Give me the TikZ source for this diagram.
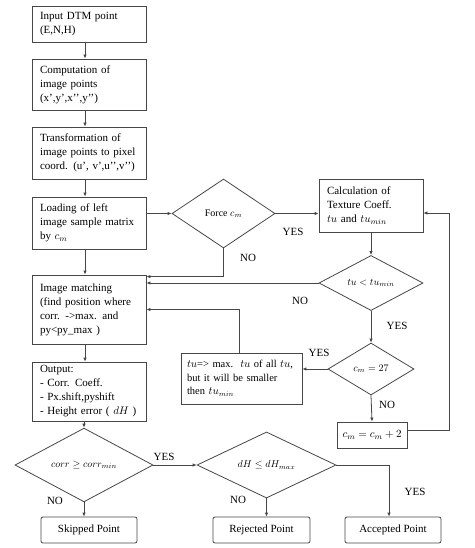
\documentclass[tikz,border=0pt]{standalone}
\usepackage{fontspec}
\setmainfont{Liberation Serif}
\usetikzlibrary{shapes.geometric,arrows.meta}
\begin{document}
\begin{tikzpicture}[x=1pt,y=-1pt,
  line width=0.8pt,
  box/.style={draw=black!72, line width=0.8pt, rectangle, align=left, inner xsep=8pt, inner ysep=0pt, font=\fontsize{11}{14}\selectfont},
  endbox/.style={draw=black!72, line width=0.8pt, rectangle, rounded corners=2pt, inner sep=0pt, minimum width=96pt, minimum height=26pt, font=\fontsize{11}{14}\selectfont},
  dia/.style={diamond, draw=black!72, line width=0.8pt, inner sep=0pt, font=\fontsize{10}{12}\selectfont},
  arr/.style={draw=black!72, -{Latex[length=4pt,width=3.5pt]}},
  lbl/.style={inner sep=0pt, font=\fontsize{11}{13}\selectfont}
]
\useasboundingbox (0,0) rectangle (474,548);
\fill[white] (0,0) rectangle (474,548);

% left column boxes
\node[box, minimum width=114pt, text width=98pt, minimum height=36pt] (b1) at (89,24) {Input DTM point\\(E,N,H)};
\node[box, minimum width=114pt, text width=98pt, minimum height=51pt] (b2) at (89,84.5) {Computation of\\image points\\(x{'},y{'},x{'}{'},y{'}{'})};
\node[box, minimum width=114pt, text width=98pt, minimum height=52pt] (b3) at (89,153) {Transformation of\\image points to pixel\\coord. (u{'}, v{'},u{'}{'},v{'}{'})};
\node[box, minimum width=114pt, text width=98pt, minimum height=52pt] (b4) at (89,223) {Loading of left\\image sample matrix\\by $c_m$};
\node[box, minimum width=114pt, text width=98pt, minimum height=69pt] (b5) at (89,309.5) {Image matching\\(find position where\\corr. ->max. and\\py<py\_max )};
\node[box, minimum width=114pt, text width=98pt, minimum height=59pt] (b6) at (89,391.5) {Output:\\- Corr. Coeff.\\- Px.shift,pyshift\\- Height error ( $dH$ )};

% right side
\node[box, minimum width=104pt, text width=88pt, minimum height=53pt] (calc) at (371,205.5) {Calculation of\\Texture Coeff.\\$tu$ and $tu_{min}$};
\node[box, inner xsep=6pt, minimum width=121pt, text width=109pt, minimum height=51pt, font=\fontsize{10.5}{13.5}\selectfont] (tumax) at (241.5,378.5) {$tu$=> max.\ \ $tu$ of all $tu$,\\but it will be smaller\\then $tu_{min}$};
\node[box, inner xsep=0pt, align=center, minimum width=70pt, minimum height=26pt] (cm2) at (372,435) {$c_m = c_m + 2$};

% diamonds
\node[dia, minimum width=103pt, minimum height=69pt] (force) at (223.5,213.5) {Force $c_m$};
\node[dia, minimum width=104pt, minimum height=50pt] (tu) at (371,283) {$tu < tu_{min}$};
\node[dia, minimum width=86pt, minimum height=52pt] (c27) at (371,369) {$c_m = 27$};
\node[dia, minimum width=138pt, minimum height=52pt] (corr) at (84,465) {$corr \ge corr_{min}$};
\node[dia, minimum width=139pt, minimum height=52pt] (dH) at (266.5,465) {$dH \le dH_{max}$};

% end boxes
\node[endbox] (skip) at (89,530) {Skipped Point};
\node[endbox, minimum width=97pt] (rej) at (261.5,530) {Rejected Point};
\node[endbox] (acc) at (393,530) {Accepted Point};

% labels
\node[lbl] (l1) at (293,232) {YES};
\node[lbl] (l2) at (248,258) {NO};
\node[lbl] (l3) at (300,301) {NO};
\node[lbl] (l4) at (397,326) {YES};
\node[lbl] (l5) at (319,353) {YES};
\node[lbl] (l6) at (387,405) {NO};
\node[lbl] (l7) at (164,457) {YES};
\node[lbl] (l8) at (55,501) {NO};
\node[lbl] (l9) at (238,500) {NO};
\node[lbl] (l10) at (415,492) {YES};

% connectors
\coordinate (ax) at (85,0);
\draw[arr] (b1.south -| ax) -- (b2.north -| ax);
\draw[arr] (b2.south -| ax) -- (b3.north -| ax);
\draw[arr] (b3.south -| ax) -- (b4.north -| ax);
\draw[arr] (b4.south -| ax) -- (b5.north -| ax);
\draw[arr] (b5.south -| ax) -- (b6.north -| ax);
\draw[arr] (b6.south -| corr.north) -- (corr.north);
\draw[arr] (corr.south) -- (corr.south |- skip.north);

\draw[arr] (b4.east |- force.west) -- (force.west);
\draw[arr] (force.east) -- (force.east -| calc.west);
\draw[arr] (force.south) |- ([yshift=-2pt]b5.north east);
\draw[arr] (tu.west) -- (tu.west -| b5.east);
\draw[arr] (calc.south) -- (tu.north);
\draw[arr] (tu.south) -- (c27.north);
\draw[arr] (c27.west) -- (c27.west -| tumax.east);
\draw[arr] ([xshift=-2pt]tumax.north) |- (b5.east);
\draw[arr] (c27.south) -- (cm2.north);
\draw[arr] ([yshift=5pt]cm2.east) -- ++(42,0) |- ([yshift=-7.5pt]calc.east);

\draw[arr] (corr.east) -- (dH.west);
\draw[arr] (dH.south) -- (dH.south |- rej.north);
\draw[arr] (dH.east) -| ([xshift=-4pt]acc.north);
\end{tikzpicture}
\end{document}
